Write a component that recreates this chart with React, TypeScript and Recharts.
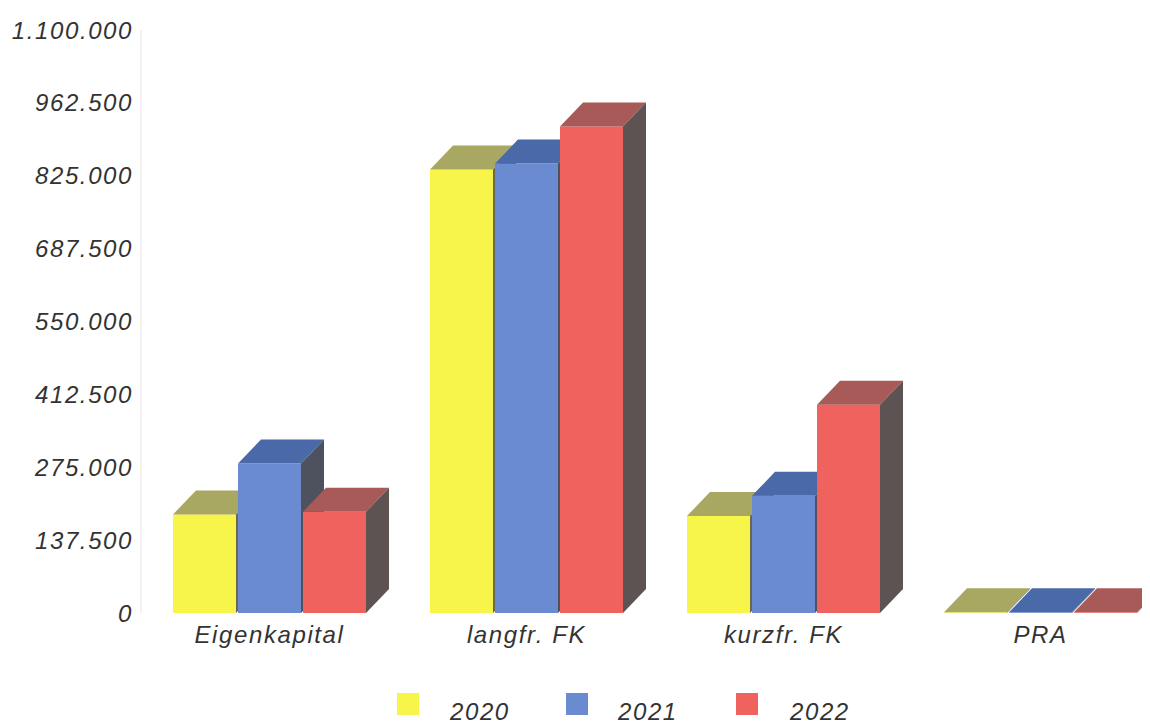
import React from 'react';
import { BarChart, Bar, XAxis, YAxis, Legend } from 'recharts';

const categories = ['Eigenkapital', 'langfr. FK', 'kurzfr. FK', 'PRA'];
const v2020 = [186000, 837000, 183000, 1200];
const v2021 = [282000, 848000, 221000, 1200];
const v2022 = [191000, 918000, 393000, 1200];
const yTicks = [0, 137500, 275000, 412500, 550000, 687500, 825000, 962500, 1100000];
const seriesNames = ['2020', '2021', '2022'];

const data = categories.map((c, i) => ({ cat: c, y2020: v2020[i], y2021: v2021[i], y2022: v2022[i] }));

const palette = [
  { front: '#f7f54a', top: '#a9a862', side: '#6a6650' },
  { front: '#6a8bcf', top: '#4a69a8', side: '#4d525e' },
  { front: '#ef625e', top: '#a85a58', side: '#5c5352' },
];

const DX = 23;
const DY = 24;

const makeShape = (k: number) => (props: any) => {
  const { x, y, width, height } = props;
  const c = palette[k];
  const w = width;
  const h = Math.max(0, height);
  return (
    <g>
      <rect x={x} y={y} width={w} height={h} fill={c.front} />
      <polygon
        points={`${x},${y} ${x + DX},${y - DY} ${x + w + DX},${y - DY} ${x + w},${y}`}
        fill={c.top}
      />
      <polygon
        points={`${x + w},${y} ${x + w + DX},${y - DY} ${x + w + DX},${y + h - DY} ${x + w},${y + h}`}
        fill={c.side}
      />
    </g>
  );
};

const fmt = (v: number) => v.toLocaleString('de-DE');

const textStyle = {
  fontFamily: '"Liberation Sans", Arial, sans-serif',
  fontStyle: 'italic' as const,
  fontSize: 24,
  letterSpacing: 1.6,
  fill: '#333',
};

const LegendContent = () => {
  const items = [
    { name: seriesNames[0], color: palette[0].front, sq: 389, tx: 442 },
    { name: seriesNames[1], color: palette[1].front, sq: 558, tx: 610 },
    { name: seriesNames[2], color: palette[2].front, sq: 728, tx: 782 },
  ];
  return (
    <div style={{ position: 'relative', width: 1142, height: 40 }}>
      {items.map((it) => (
        <React.Fragment key={it.name}>
          <div style={{ position: 'absolute', left: it.sq, top: 3, width: 22, height: 22, background: it.color }} />
          <div
            style={{
              position: 'absolute',
              left: it.tx,
              top: 7,
              fontFamily: '"Liberation Sans", Arial, sans-serif',
              fontStyle: 'italic',
              fontSize: 24,
              letterSpacing: 1.6,
              color: '#333',
              lineHeight: '30px',
            }}
          >
            {it.name}
          </div>
        </React.Fragment>
      ))}
    </div>
  );
};

export default function App() {
  return (
    <div style={{ width: 1142, height: 719, overflow: 'hidden', background: '#fff' }}>
      <BarChart
        width={1170}
        height={719}
        data={data}
        margin={{ top: 22, right: 9, left: 0, bottom: 24 }}
        barCategoryGap={32}
        barGap={2}
      >
        <XAxis
          dataKey="cat"
          axisLine={false}
          tickLine={false}
          interval={0}
          tickMargin={7}
          height={50}
          tick={textStyle}
        />
        <YAxis
          width={133}
          domain={[0, 1100000]}
          ticks={yTicks}
          interval={0}
          tickFormatter={fmt}
          axisLine={{ stroke: '#e4e4e4' }}
          tickLine={false}
          tick={textStyle}
        />
        <Legend
          verticalAlign="bottom"
          content={<LegendContent />}
          wrapperStyle={{ position: 'absolute', left: 0, top: 682, width: 1142, height: 40 }}
        />
        <Bar dataKey="y2020" name="2020" fill={palette[0].front} shape={makeShape(0)} isAnimationActive={false} />
        <Bar dataKey="y2021" name="2021" fill={palette[1].front} shape={makeShape(1)} isAnimationActive={false} />
        <Bar dataKey="y2022" name="2022" fill={palette[2].front} shape={makeShape(2)} isAnimationActive={false} />
      </BarChart>
    </div>
  );
}
